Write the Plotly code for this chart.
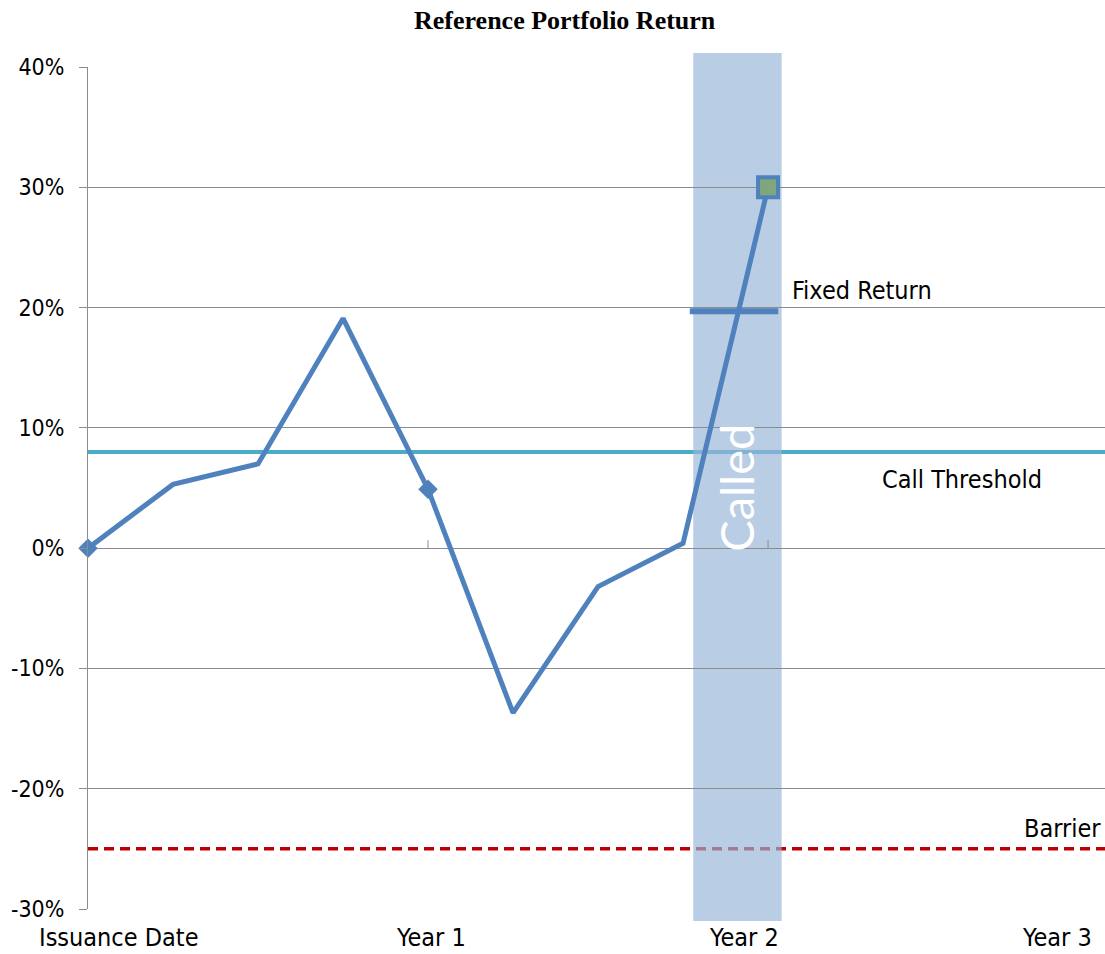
import plotly.graph_objects as go

# ---- data ----
dates = [0, 0.25, 0.5, 0.75, 1.0, 1.25, 1.5, 1.75, 2.0]
returns = [0.0, 0.053, 0.070, 0.191, 0.049, -0.137, -0.032, 0.004, 0.300]
marker_dates = [0, 1.0]
marker_returns = [0.0, 0.049]
called_date = [2.0]
called_return = [0.300]
call_threshold = 0.08
barrier = -0.25
fixed_return = 0.197
fixed_span = [1.77, 2.03]
called_span = [1.78, 2.04]
year_ticks = [1.0, 2.0]
x_labels = ["Issuance Date", "Year 1", "Year 2", "Year 3"]
x_label_pos = [0.09, 1.01, 1.93, 2.85]
y_ticks = [-0.3, -0.2, -0.1, 0.0, 0.1, 0.2, 0.3, 0.4]
y_tick_text = ["-30%", "-20%", "-10%", "0%", "10%", "20%", "30%", "40%"]

FONT = "DejaVu Sans Condensed, DejaVu Sans, sans-serif"
BLUE = "#4F81BD"
GRID = "#8C8C8C"

fig = go.Figure()

# main line
fig.add_trace(go.Scatter(x=dates, y=returns, mode="lines",
                         line=dict(color=BLUE, width=5), hoverinfo="skip",
                         showlegend=False))
# fixed return bar
fig.add_trace(go.Scatter(x=fixed_span, y=[fixed_return, fixed_return], mode="lines",
                         line=dict(color=BLUE, width=6), showlegend=False))
# diamonds
fig.add_trace(go.Scatter(x=marker_dates, y=marker_returns, mode="markers",
                         marker=dict(symbol="diamond", size=15, color=BLUE),
                         showlegend=False, cliponaxis=False))
# called square
fig.add_trace(go.Scatter(x=called_date, y=called_return, mode="markers",
                         marker=dict(symbol="square", size=20, color="#7FA67C",
                                     line=dict(color=BLUE, width=4)),
                         showlegend=False))

shapes = []
# call threshold line
shapes.append(dict(type="line", xref="paper", yref="y", x0=0, x1=1,
                   y0=call_threshold, y1=call_threshold,
                   line=dict(color="#4BACC6", width=4), layer="between"))
# barrier
shapes.append(dict(type="line", xref="paper", yref="y", x0=0, x1=1,
                   y0=barrier, y1=barrier,
                   line=dict(color="#C00000", width=3.5, dash="10px,6px"), layer="between"))
# called rectangle
shapes.append(dict(type="rect", xref="x", yref="paper", x0=called_span[0], x1=called_span[1],
                   y0=-0.0143, y1=1.0166, fillcolor="rgba(152,181,217,0.68)",
                   line=dict(width=0), layer="between"))
# small tick marks on zero line
for t in year_ticks:
    shapes.append(dict(type="line", xref="x", yref="y", x0=t, x1=t, y0=0, y1=0.0066,
                       line=dict(color=GRID, width=1), layer="between"))

annotations = []
for lab, pos in zip(x_labels, x_label_pos):
    annotations.append(dict(x=pos, y=0, xref="x", yref="paper", text=lab,
                            showarrow=False, yanchor="top", yshift=-12,
                            font=dict(family=FONT, size=25, color="#000000")))
annotations.append(dict(x=2.065, y=0.214, xref="x", yref="y", text="Fixed Return",
                        showarrow=False, xanchor="left",
                        font=dict(family=FONT, size=25, color="#000000")))
annotations.append(dict(x=2.57, y=0.057, xref="x", yref="y", text="Call Threshold",
                        showarrow=False, font=dict(family=FONT, size=25, color="#000000")))
annotations.append(dict(x=2.865, y=-0.233, xref="x", yref="y", text="Barrier",
                        showarrow=False, font=dict(family=FONT, size=25, color="#000000")))
annotations.append(dict(x=1.905, y=0.05, xref="x", yref="y", text="Called",
                        showarrow=False, textangle=-90,
                        font=dict(family="Lato, sans-serif", size=47, color="#FFFFFF")))

fig.update_layout(
    width=1105, height=954,
    margin=dict(l=88, r=0, t=67, b=45),
    paper_bgcolor="white", plot_bgcolor="white",
    title=dict(text="<b>Reference Portfolio Return</b>", x=0.511, xanchor="center",
               y=1 - 20 / 954, yanchor="middle",
               font=dict(family="Liberation Serif, Times New Roman, serif", size=26,
                         color="#000000")),
    shapes=shapes, annotations=annotations,
    xaxis=dict(range=[0, 2.991], showgrid=False, zeroline=False, showticklabels=False,
               showline=False, ticks=""),
    yaxis=dict(range=[-0.3, 0.4], tickvals=y_ticks, ticktext=y_tick_text,
               showgrid=True, gridcolor=GRID, gridwidth=1, zeroline=False,
               showline=True, linecolor=GRID, linewidth=1,
               ticks="outside", ticklen=8, tickcolor=GRID,
               ticklabelstandoff=10,
               tickfont=dict(family=FONT, size=23, color="#000000")),
    hovermode=False,
)

fig.write_html("out.html", config={"displayModeBar": False},
               post_script="document.body.style.margin='0px';")
